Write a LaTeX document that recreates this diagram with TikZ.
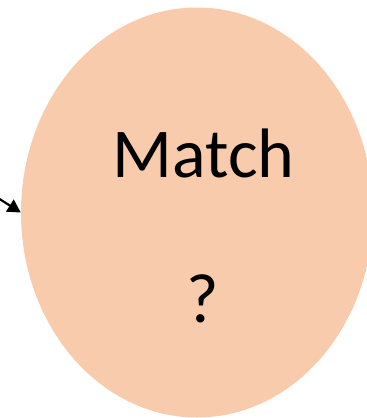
\documentclass[tikz,border=0pt]{standalone}
\usepackage{fontspec}
\setmainfont{Carlito}
\usetikzlibrary{shapes.geometric,arrows.meta}
\definecolor{peach}{HTML}{F8CBAD}
\begin{document}
\begin{tikzpicture}[x=1pt,y=-1pt,
  bubble/.style={ellipse,fill=peach,draw=none,inner sep=0pt,
    minimum width=352pt,minimum height=410pt},
  bigtext/.style={font=\fontsize{70}{84}\selectfont,inner sep=0pt,anchor=base},
  feed/.style={line width=2.2pt,-{Triangle[length=13pt,width=14pt]}}]
  \useasboundingbox (0,0) rectangle (367,418);
  \node[bubble] (m) at (197,212.5) {};
  \node[bigtext] (t1) at (203.5,177) {Match};
  \node[bigtext] (t2) at (203,322) {?};
  \coordinate (src) at (-6,195.5);
  \draw[feed] (src) -- (m.west);
\end{tikzpicture}
\end{document}
